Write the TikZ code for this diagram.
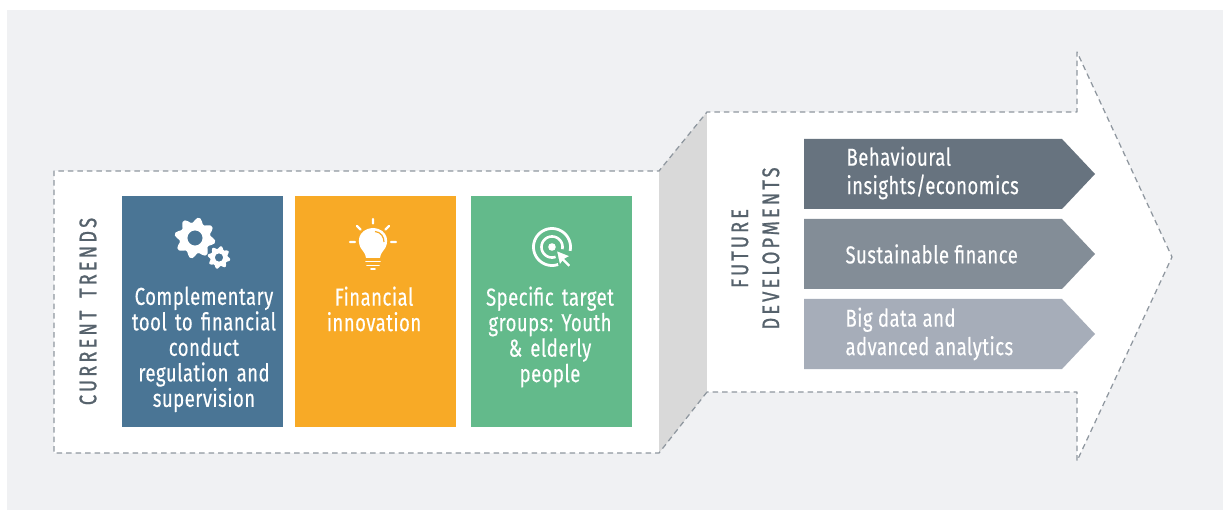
\documentclass[tikz,border=0pt]{standalone}
\usepackage{fontspec}
\setmainfont[FakeStretch=0.755,LetterSpace=2,FakeBold=0.35]{Fira Sans}
\newfontfamily\sidefont[FakeStretch=0.76,LetterSpace=13,FakeBold=0.9,WordSpace=1.6]{Fira Sans}
\definecolor{bgc}{HTML}{F0F1F3}
\definecolor{dashc}{HTML}{8F979F}
\definecolor{foldc}{HTML}{D9D9D9}
\definecolor{blueb}{HTML}{4A7595}
\definecolor{orangeb}{HTML}{F8AA26}
\definecolor{greenb}{HTML}{63BA8B}
\definecolor{txtc}{HTML}{56626C}
\definecolor{tagA}{HTML}{67737F}
\definecolor{tagB}{HTML}{838D97}
\definecolor{tagC}{HTML}{A6ADB9}
\tikzset{
 outlinepath/.style={draw=dashc,line width=1.25pt,dash pattern=on 5.5pt off 4pt,line join=round},
 cardbox/.style={inner sep=0pt,minimum width=161pt,minimum height=231pt,anchor=north west},
 cardtext/.style={text=white,font=\fontsize{24.5}{25.5}\selectfont,align=center,anchor=north,text width=160pt},
 sidetext/.style={text=txtc,font=\sidefont\fontsize{24}{31}\selectfont,align=center,rotate=90},
 tagtext/.style={text=white,font=\fontsize{24.5}{28.5}\selectfont,align=left,anchor=west},
 icon/.style={white,line cap=round,line join=round}
}
\newcommand{\gearshape}[3]{% x y r
 \fill[white,even odd rule] plot[smooth cycle,tension=.3,samples=48,domain=0:352.5,variable=\t]
   ({#1+#3*(1+.15*sin(8*\t))*cos(\t)},{#2+#3*(1+.15*sin(8*\t))*sin(\t)})
   (#1,#2) circle[radius=.42*#3];
}
\frenchspacing
\begin{document}
\begin{tikzpicture}[x=1pt,y=-1pt]
\useasboundingbox (0,0) rectangle (1223,510);
\fill[white] (0,0) rectangle (1223,510);
\fill[bgc] (7,10) rectangle (1223,510);
% left white panel and arrow
\fill[white] (54,171) -- (659,171) -- (659,453) -- (54,453) -- cycle;
\fill[foldc] (659,171) -- (707,112) -- (707,392) -- (659,453) -- cycle;
\fill[white] (707,112) -- (1077,112) -- (1077,52) -- (1172,257) -- (1077,461) -- (1077,392) -- (707,392) -- cycle;
\coordinate (p1) at (659,171); \coordinate (p2) at (54,171); \coordinate (p3) at (54,453); \coordinate (p4) at (659,453);
\coordinate (q1) at (707,112); \coordinate (q2) at (1077,112); \coordinate (q3) at (1077,52); \coordinate (q4) at (1172,257);
\coordinate (q5) at (1077,461); \coordinate (q6) at (1077,392); \coordinate (q7) at (707,392);
\draw[outlinepath] (q7) -- (p4) -- (p3) -- (p2) -- (p1) -- (q1) -- (q2) -- (q3) -- (q4) -- (q5) -- (q6) -- (q7);
% cards
\node[cardbox,fill=blueb] (c1) at (121.5,195.5) {};
\node[cardbox,fill=orangeb] (c2) at (295,195.5) {};
\node[cardbox,fill=greenb] (c3) at (471,195.5) {};
\node[cardtext] (t1) at (204,283) {Complementary\\tool to financial\\conduct\\regulation and\\supervision};
\node[cardtext] (t2) at (374,283) {Financial\\innovation};
\node[cardtext] (t3) at (550,283) {Specific target\\groups: Youth\\\& elderly\\people};
\node[sidetext] (s1) at (88,311.5) {CURRENT TRENDS};
\node[sidetext] (s2) at (755.5,248.5) {FUTURE\\DEVELOPMENTS};
% tags
\fill[tagA] (804,139) -- (1062,139) -- (1095,174) -- (1062,209) -- (804,209) -- cycle;
\fill[tagB] (804,219) -- (1062,219) -- (1095,254) -- (1062,289) -- (804,289) -- cycle;
\fill[tagC] (804,299) -- (1062,299) -- (1095,334) -- (1062,369) -- (804,369) -- cycle;
\node[tagtext] (g1) at (843,173) {Behavioural\\insights/economics};
\node[tagtext] (g2) at (842,254) {Sustainable finance};
\node[tagtext] (g3) at (842,334) {Big data and\\advanced analytics};
% gears icon
\gearshape{195}{238}{18}
\gearshape{219}{257.5}{10}
% bulb icon
\fill[white] (363,251) .. controls (356,244) and (357,229) .. (373,228) .. controls (389,229) and (390,244) .. (383,251) .. controls (381,254) and (380,256) .. (380,258) -- (366,258) .. controls (366,256) and (365,254) .. (363,251) -- cycle;
\draw[icon,line width=1.8pt] (366,261.5) -- (380,261.5) (367,265.5) -- (379,265.5) (371,269) -- (375,269);
\draw[icon,line width=2.4pt] (373,219) -- (373,223.5) (357,226) -- (360.5,229.5) (389,226) -- (385.5,229.5) (350,242) -- (355,242) (391,242) -- (396,242);
\draw[orangeb,line width=1.2pt] (375,231.5) .. controls (381,232) and (384,237) .. (384,242);
% target icon
\draw[white,line width=2.8pt] plot[smooth,samples=50,domain=70:372,variable=\t] ({552+18.5*cos(\t)},{247+18.5*sin(\t)});
\draw[white,line width=2.6pt] plot[smooth,samples=40,domain=70:372,variable=\t] ({552+10.5*cos(\t)},{247+10.5*sin(\t)});
\fill[white] (552,247) circle[radius=3.8];
\fill[white,draw=greenb,line width=1.5pt,line join=miter] (556,250) -- (571,256) -- (565.5,259) -- (571.5,265) -- (568.5,268) -- (562.5,262) -- (559.5,266) -- cycle;
\end{tikzpicture}
\end{document}
